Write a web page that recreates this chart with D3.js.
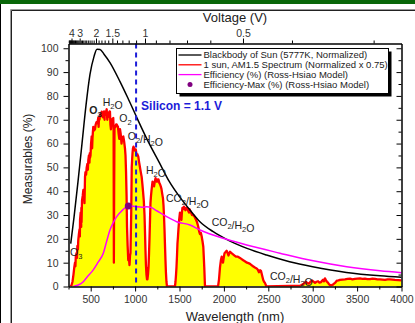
<!DOCTYPE html>
<html><head><meta charset="utf-8">
<script src="https://cdn.jsdelivr.net/npm/d3@7"></script>
<style>
html,body{margin:0;padding:0;background:#fff;}
svg{display:block;font-family:"Liberation Sans",Arial,sans-serif;}
</style></head><body>
<svg id="chart" width="415" height="323"></svg>
<script>
// Blackbody of the Sun (5777 K), normalized: [wavelength nm, %]
const blackbody = [[275,18],[312,29],[357,44],[402,60],[447,76],[492,89],[537,96.5],[571,99.6],[605,99.5],[650,97.5],[717,94],[830,86],[920,79],[1018,71],[1145,61],[1273,52],[1386,44],[1500,37.7],[1620,32],[1730,27.2],[1880,23],[2030,19.8],[2260,16],[2480,13.2],[2740,10.4],[3000,8.3],[3380,5.9],[3760,4.5],[4000,3.9]];

// Ross-Hsiao efficiency vs. band-gap wavelength: [nm, %]
const efficiency = [[304,0],[350,0.5],[417,2],[460,4],[529,7],[580,10],[642,14],[680,19],[717,23.7],[750,26.5],[793,29.3],[830,31],[867,32.4],[923,33.8],[980,33.7],[1018,33.5],[1080,33.3],[1131,33.5],[1180,33.2],[1243,31.8],[1356,29.3],[1468,27.2],[1618,25.8],[1731,23.7],[2031,19.8],[2257,17.4],[2631,14],[3006,10.8],[3383,8.3],[3758,6.6],[4000,5.8]];
const efficiencyMax = [923, 33.8];

// AM1.5 spectrum, normalized x 0.75: [nm, %]
const am15 = [[273,0],[284,0.5],[295,2],[306,5],[315,8],[323,10],[328,8.5],[332,12.5],[340,14],[345,12],[350,17],[356,15.5],[360,19.5],[367,22],[374,24],[378,21],[380,28],[387,31],[393,25],[395,33],[397,27],[402,36],[410,38],[417,40.5],[423,39],[430,35],[434,42],[436,46],[441,48],[448,47],[455,50],[463,51.5],[468,49],[473,53],[480,55],[486,52],[490,56],[492,54],[498,55],[504,60],[511,63],[516,58],[520,62],[525,65],[529,67],[537,65.5],[548,66],[556,68],[565,69],[575,68.5],[586,71],[589,67],[593,70.5],[599,70],[605,72],[610,72.5],[617,71.5],[624,73.4],[631,72.5],[638,71],[644,72.5],[650,73.5],[656,70],[658,73],[667,72],[674,73.5],[680,74.4],[687,70],[690,71.5],[694,71],[700,72.5],[706,73],[712,73.5],[717,73.4],[722,68],[728,66],[734,68.5],[740,70],[747,70.5],[754,70.7],[758,66],[761,10],[764,40],[768,66],[774,67.5],[779,67],[786,68],[793,68],[800,67.5],[807,67],[815,64],[822,62],[830,66],[838,64],[847,60],[856,62.5],[867,63],[876,61],[886,58],[892,55],[898,48],[904,38],[909,25],[916,17],[923,11],[930,12],[937,9],[943,13],[948,14],[952,22],[956,30],[962,50],[966,53],[971,56],[976,58],[982,58.7],[990,58],[999,57],[1008,57.5],[1016,55],[1026,55.5],[1036,54.5],[1046,52],[1055,50],[1064,48],[1074,46],[1082,43],[1089,40],[1098,36],[1106,30],[1112,22],[1117,15],[1122,9],[1128,5],[1134,3],[1139,3],[1145,5],[1151,8],[1157,14],[1162,20],[1168,28],[1173,35],[1179,38],[1184,40],[1190,42],[1196,44],[1204,43],[1213,42],[1222,44],[1230,45.5],[1238,44.5],[1246,44],[1255,45],[1263,45],[1272,43.5],[1280,43],[1289,42],[1297,41],[1305,39],[1314,37],[1320,34],[1325,30],[1331,24],[1336,18],[1342,11],[1347,6],[1353,2],[1359,0],[1449,0],[1455,2],[1461,5],[1466,8],[1472,13],[1477,18],[1483,21],[1488,24],[1496,28],[1505,31],[1513,29],[1522,28],[1527,31],[1533,33],[1541,32.5],[1550,33.5],[1558,33],[1567,32],[1575,33],[1584,33],[1595,32],[1607,31],[1612,32.5],[1618,32],[1630,31],[1641,30],[1657,30],[1674,29],[1686,28],[1697,27],[1705,26],[1712,25],[1722,23],[1731,22],[1741,22.5],[1750,21],[1759,19],[1768,16.7],[1774,12],[1779,8],[1787,0],[1934,0],[1945,3],[1956,8],[1966,11],[1975,12.5],[1983,11],[1990,10],[1998,12],[2007,14],[2019,14.5],[2031,15],[2042,14],[2052,13],[2060,14],[2069,14.6],[2086,14],[2103,13.5],[2120,13],[2136,12.5],[2158,12.5],[2181,12],[2200,11.5],[2218,11],[2240,10.5],[2260,10],[2277,9.8],[2294,9.5],[2311,9],[2328,8.5],[2349,8],[2369,7.6],[2382,7],[2395,6],[2407,6.8],[2418,6.5],[2431,4.5],[2443,2.7],[2452,2],[2462,1.5],[2479,0],[2600,0.1],[2750,0.2],[2857,0.3],[2875,0.6],[2894,1],[2910,1.6],[2924,2],[2940,1.4],[2958,1.2],[2975,2],[2992,2.5],[3010,2],[3026,1.5],[3043,2],[3060,2.2],[3076,1.6],[3093,1.8],[3105,2.4],[3116,2.8],[3127,2.2],[3138,3.4],[3150,2.6],[3161,2],[3172,1.6],[3183,1],[3195,0.6],[3206,0.4],[3217,0.6],[3228,0.8],[3240,1.2],[3251,1.5],[3262,2],[3273,2.5],[3290,2.6],[3307,2.8],[3335,2.9],[3363,3],[3392,3.2],[3420,3.3],[3448,3],[3476,3.2],[3504,3.3],[3532,3.4],[3560,3.2],[3588,3.3],[3616,3.1],[3645,3.1],[3673,3.3],[3701,3.2],[3729,3],[3757,3],[3785,2.9],[3814,2.8],[3842,3],[3870,3],[3898,2.9],[3926,2.8],[3963,2.7],[4000,2.6]];

// Axis ticks
const wavelengthTicks = d3.range(250, 4001, 250);
const wavelengthLabels = d3.range(500, 4001, 500);
const percentMajor = d3.range(0, 101, 10);
const percentMinor = d3.range(5, 101, 10);
const voltageMajor = [4, 3, 2, 1.5, 1, 0.5];
const voltageMinor = d3.range(3, 46).map(d => d / 10).filter(v => !voltageMajor.includes(v));
const siliconGap = 1.1;
const HC = 1240; // eV·nm

// Absorption band annotations: [text, wavelength nm, %, bold]
const bands = [
  ["O_3", 484, 72.2, true],
  ["H_2O", 635, 75.6, false],
  ["O_2", 822, 68.9, false],
  ["O_2/H_2O", 917, 61.5, false],
  ["H_2O", 1123, 47.4, false],
  ["CO_2/H_2O", 1348, 35.3, false],
  ["CO_2/H_2O", 1862, 25.2, false],
  ["CO_2/H_2O", 2519, 2.9, false],
  ["O_3", 267, 12.8, false]
];

const legendLabels = [
  "Blackbody of Sun (5777K, Normalized)",
  "1 sun, AM1.5 Spectrum (Normalized x 0.75)",
  "Efficiency (%) (Ross-Hsiao Model)",
  "Efficiency-Max (%) (Ross-Hsiao Model)"
];

(function draw() {
  const svg = d3.select("#chart");
  const W = 415, H = 323;
  const mLeft = 68.5, mRight = 401.5, mTop = 43.5, mBottom = 286.5;

  const x = d3.scaleLinear().domain([250, 4000]).range([mLeft, mRight]);
  const y = d3.scaleLinear().domain([0, 102]).range([mBottom, mTop]);
  // Upper voltage axis (photon energy equivalent of wavelength)
  const xTop = d3.scaleLinear().domain([272, 4486]).range([mLeft, mRight]);

  // Page frame
  svg.append("rect").attr("width", W).attr("height", H).attr("fill", "#fff");
  svg.append("rect").attr("x", 0).attr("y", 0).attr("width", W).attr("height", 4).attr("fill", "#086608");
  svg.append("line").attr("x1", 0.5).attr("x2", 0.5).attr("y1", 4).attr("y2", H).attr("stroke", "#000");
  svg.append("path").attr("d", `M10.5,${H}V9.5H${W}`).attr("fill", "none").attr("stroke", "#9a9a9a");
  svg.append("path").attr("d", `M11.5,${H}V10.5H${W}`).attr("fill", "none").attr("stroke", "#222");

  svg.append("clipPath").attr("id", "plot").append("rect")
    .attr("x", mLeft).attr("y", mTop).attr("width", mRight - mLeft).attr("height", mBottom - mTop);
  const plot = svg.append("g").attr("clip-path", "url(#plot)");

  // AM1.5 spectrum: yellow fill with red outline
  plot.append("path").datum(am15)
    .attr("d", d3.area().x(d => x(d[0])).y0(y(0)).y1(d => y(d[1])))
    .attr("fill", "#ffff00");
  plot.append("path").datum(am15)
    .attr("d", d3.line().x(d => x(d[0])).y(d => y(d[1])))
    .attr("fill", "none").attr("stroke", "#ff0000").attr("stroke-width", 2.3).attr("stroke-linejoin", "round");

  // Blackbody
  plot.append("path").datum(blackbody)
    .attr("d", d3.line().curve(d3.curveMonotoneX).x(d => x(d[0])).y(d => y(d[1])))
    .attr("fill", "none").attr("stroke", "#000").attr("stroke-width", 1.5);

  // Efficiency
  plot.append("path").datum(efficiency)
    .attr("d", d3.line().curve(d3.curveMonotoneX).x(d => x(d[0])).y(d => y(d[1])))
    .attr("fill", "none").attr("stroke", "#ff00ff").attr("stroke-width", 1.5);

  // Silicon band gap marker
  const xSi = xTop(HC / siliconGap);
  svg.append("line").attr("x1", xSi).attr("x2", xSi).attr("y1", y(102)).attr("y2", y(0))
    .attr("stroke", "#1c1cd8").attr("stroke-width", 2).attr("stroke-dasharray", "5,4");
  svg.append("text").attr("x", xSi + 5).attr("y", y(74.1))
    .attr("font-size", 12).attr("font-weight", "bold").attr("fill", "#1c1cd8")
    .text("Silicon = 1.1 V");

  // Efficiency maximum
  svg.append("circle").attr("cx", x(efficiencyMax[0])).attr("cy", y(efficiencyMax[1])).attr("r", 3.5).attr("fill", "#800080");

  // Band labels with subscripts
  bands.forEach(([t, wl, v, bold]) => {
    const txt = svg.append("text").attr("x", x(wl)).attr("y", y(v))
      .attr("font-size", 10.5).attr("fill", "#222").attr("font-weight", bold ? "bold" : "normal");
    t.split(/(_\d)/).filter(s => s).forEach(part => {
      if (part.startsWith("_")) {
        txt.append("tspan").attr("font-size", 7.5).attr("dy", 3).text(part.slice(1));
        txt.append("tspan").attr("dy", -3).text("");
      } else {
        txt.append("tspan").text(part);
      }
    });
  });

  function styleAxis(g, fs) {
    g.select(".domain").attr("stroke", "#000");
    g.selectAll(".tick line").attr("stroke", "#000");
    g.selectAll(".tick text").attr("fill", "#333").attr("font-size", fs).attr("font-family", "Liberation Sans, Arial, sans-serif");
  }

  // Bottom axis
  const gb = svg.append("g").attr("transform", `translate(0,${mBottom})`);
  gb.call(d3.axisBottom(x).tickValues(wavelengthTicks.filter(v => !wavelengthLabels.includes(v))).tickSize(3).tickSizeOuter(0).tickFormat(""));
  styleAxis(gb, 10.5);
  const gb2 = svg.append("g").attr("transform", `translate(0,${mBottom})`);
  gb2.call(d3.axisBottom(x).tickValues(wavelengthLabels).tickSize(5).tickSizeOuter(0).tickPadding(4).tickFormat(d3.format("d")));
  styleAxis(gb2, 10.5);

  // Left axis
  const gl = svg.append("g").attr("transform", `translate(${mLeft},0)`);
  gl.call(d3.axisLeft(y).tickValues(percentMinor).tickSize(3).tickSizeOuter(0).tickFormat(""));
  styleAxis(gl, 10.5);
  const gl2 = svg.append("g").attr("transform", `translate(${mLeft},0)`);
  gl2.call(d3.axisLeft(y).tickValues(percentMajor).tickSize(5).tickSizeOuter(0).tickPadding(5));
  styleAxis(gl2, 10.5);

  // Right axis (inward ticks)
  const gr = svg.append("g").attr("transform", `translate(${mRight},0)`);
  gr.call(d3.axisLeft(y).tickValues(percentMajor).tickSize(5).tickSizeOuter(0).tickFormat(""));
  styleAxis(gr, 10.5);
  const gr2 = svg.append("g").attr("transform", `translate(${mRight},0)`);
  gr2.call(d3.axisLeft(y).tickValues(percentMinor).tickSize(3).tickSizeOuter(0).tickFormat(""));
  styleAxis(gr2, 10.5);

  // Top axis: voltage
  const gt = svg.append("g").attr("transform", `translate(0,${mTop})`);
  gt.call(d3.axisTop(xTop).tickValues(voltageMinor.map(v => HC / v)).tickSize(3).tickSizeOuter(0).tickFormat(""));
  styleAxis(gt, 10.5);
  const gt2 = svg.append("g").attr("transform", `translate(0,${mTop})`);
  gt2.call(d3.axisTop(xTop).tickValues(voltageMajor.map(v => HC / v)).tickSize(5).tickSizeOuter(0).tickPadding(2)
    .tickFormat(d => String(+(HC / d).toFixed(2))));
  styleAxis(gt2, 10.5);

  // Axis titles
  svg.append("text").attr("x", 235).attr("y", 22).attr("text-anchor", "middle")
    .attr("font-size", 13).attr("fill", "#222").text("Voltage (V)");
  svg.append("text").attr("x", (mLeft + mRight) / 2).attr("y", 321).attr("text-anchor", "middle")
    .attr("font-size", 13).attr("fill", "#222").text("Wavelength (nm)");
  svg.append("text").attr("transform", `translate(32,${(mTop + mBottom) / 2 - 6}) rotate(-90)`)
    .attr("text-anchor", "middle").attr("font-size", 12).attr("fill", "#222").text("Measurables (%)");

  // Legend
  const lg = svg.append("g").attr("transform", "translate(176.5,48.5)");
  lg.append("rect").attr("x", 3).attr("y", 3).attr("width", 212).attr("height", 45).attr("fill", "#000");
  lg.append("rect").attr("x", 0).attr("y", 0).attr("width", 212).attr("height", 45).attr("fill", "#fff").attr("stroke", "#000");
  const legendColors = ["#000", "#ff0000", "#ff00ff"];
  legendLabels.forEach((label, i) => {
    const ly = 6.5 + i * 9.8;
    if (i < 3) {
      lg.append("line").attr("x1", 2).attr("x2", 25).attr("y1", ly).attr("y2", ly)
        .attr("stroke", legendColors[i]).attr("stroke-width", 1.3);
    } else {
      lg.append("circle").attr("cx", 13.5).attr("cy", ly).attr("r", 2.5).attr("fill", "#800080");
    }
    lg.append("text").attr("x", 27).attr("y", ly + 3.3).attr("font-size", 9.5).attr("fill", "#222").text(label);
  });
})();
</script>
</body></html>
